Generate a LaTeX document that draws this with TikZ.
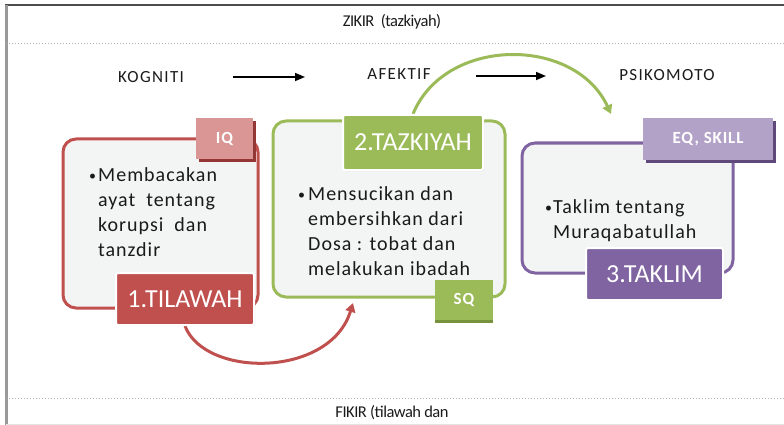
\documentclass[tikz,border=0pt]{standalone}
\usepackage{fontspec}
\setmainfont{Carlito}
\newfontfamily\bodyfont{Carlito}[LetterSpace=5]
\newfontfamily\tagfont{Carlito}[LetterSpace=5]
\newfontfamily\stagefont{Carlito}[LetterSpace=8]
\newfontfamily\bandfont{Carlito}[LetterSpace=-3]
\usetikzlibrary{arrows.meta,shadows,backgrounds}

\definecolor{redm}{HTML}{C0504D}
\definecolor{redl}{HTML}{D99694}
\definecolor{redd}{HTML}{943634}
\definecolor{greenm}{HTML}{9BBB59}
\definecolor{greend}{HTML}{76923C}
\definecolor{purplem}{HTML}{8064A2}
\definecolor{purplel}{HTML}{B3A2C7}
\definecolor{purpled}{HTML}{5F497A}
\definecolor{panelfill}{HTML}{F3F4F4}
\definecolor{ink}{HTML}{1A1A1A}

\begin{document}
\begin{tikzpicture}[x=1pt,y=-1pt,
  panel/.style={draw=#1, line width=3pt, fill=panelfill, rounded corners=13pt, inner sep=0pt},
  header/.style={fill=#1, draw=white, line width=2pt, rounded corners=2pt, inner sep=0pt,
    text=white, font=\fontsize{26}{30}\selectfont,
    drop shadow={opacity=0.25, shadow xshift=1pt, shadow yshift=-1pt}},
  tag/.style={fill=#1, inner sep=0pt, text=white, font=\tagfont\bfseries\fontsize{17}{19}\selectfont},
  line/.style={anchor=base west, inner sep=0pt, text=ink, font=\bodyfont\fontsize{20}{25}\selectfont},
  stage/.style={inner sep=0pt, text=ink, font=\stagefont\fontsize{17}{20}\selectfont},
  band/.style={inner sep=0pt, text=ink, font=\bandfont\fontsize{16.5}{19}\selectfont},
  flow/.style={line width=1.6pt, -{Triangle[length=10pt,width=8pt]}},
  loop/.style={line width=3pt, -{Triangle[length=9pt,width=10pt]}}
]
\useasboundingbox (0,0) rectangle (784,425);

% frame and band separators
\draw[line width=2pt, black!70] (5,5) -- (784,5);
\draw[line width=3pt, black!40] (6,5) -- (6,425);
\draw[black!30, line width=1pt, dotted] (6,44) -- (784,44);
\draw[black!30, line width=1pt, dotted] (6,398) -- (784,398);
\draw[black!10, line width=1pt] (6,424) -- (784,424);

\node[band] (zikir) at (392,22) {ZIKIR\ \ (tazkiyah)};
\node[band] (fikir) at (392,413) {FIKIR (tilawah dan};

% stage headings
\node[stage] (kog) at (151,77) {KOGNITI};
\node[stage] (afe) at (399,74) {AFEKTIF};
\node[stage] (psi) at (667,75) {PSIKOMOTO};
\coordinate (f1a) at (233,77);
\coordinate (f1b) at (305,77);
\coordinate (f2a) at (476,76);
\coordinate (f2b) at (546,76);
\draw[flow] (f1a) -- (f1b);
\draw[flow] (f2a) -- (f2b);

% step 1
\node[panel=redm, minimum width=195pt, minimum height=169pt] (p1) at (160.5,223.5) {};
\node[tag=redd, minimum width=57pt, minimum height=41pt] (iqs) at (227.5,141.5) {};
\node[tag=redl, minimum width=57pt, minimum height=41pt] (iq) at (224.5,138.5) {IQ};
\node[line] (l1a) at (89,181) {\makebox[9pt][l]{\raisebox{1pt}{\fontsize{14}{14}\selectfont•}}Membacakan};
\node[line] (l1b) at (98,206) {ayat\ \ tentang};
\node[line] (l1c) at (98,231) {korupsi\ \ dan};
\node[line] (l1d) at (98,256) {tanzdir};
\node[header=redm, minimum width=138pt, minimum height=52pt] (tila) at (185,299) {1.TILAWAH};

% step 2
\node[panel=greenm, minimum width=232pt, minimum height=176pt] (p2) at (389,209) {};
\node[header=greenm, minimum width=140pt, minimum height=55pt] (taz) at (413,142.5) {2.TAZKIYAH};
\node[line] (l2a) at (298,200) {\makebox[10pt][l]{\raisebox{1pt}{\fontsize{14}{14}\selectfont•}}Mensucikan dan};
\node[line] (l2b) at (308,225) {embersihkan dari};
\node[line] (l2c) at (308,250) {Dosa : tobat dan};
\node[line] (l2d) at (308,275) {melakukan ibadah};
\node[tag=greend, minimum width=58pt, minimum height=40pt] (sqs) at (464,303) {};
\node[tag=greenm, minimum width=58pt, minimum height=40pt] (sq) at (464,300) {SQ};

% step 3
\node[panel=purplem, minimum width=211pt, minimum height=130pt] (p3) at (627.5,208) {};
\node[tag=purpled, minimum width=130pt, minimum height=42pt] (eqs) at (711,142) {};
\node[tag=purplel, minimum width=130pt, minimum height=42pt] (eq) at (708,139) {EQ, SKILL};
\node[line] (l3a) at (545,213) {\makebox[8pt][l]{\raisebox{1pt}{\fontsize{14}{14}\selectfont•}}Taklim tentang};
\node[line] (l3b) at (553,238) {Muraqabatullah};
\node[header=purplem, minimum width=137pt, minimum height=52pt] (tak) at (654.5,274) {3.TAKLIM};

% cycle arcs between the steps
\coordinate (redend) at (353,303);
\coordinate (greenend) at (611,114);
\begin{scope}[on background layer]
  \draw[loop, draw=redm] (tila.south) .. controls (205,378) and (330,378) .. (redend);
  \draw[loop, draw=greenm] (taz.north) .. controls (445,36) and (575,36) .. (greenend);
\end{scope}
\end{tikzpicture}
\end{document}
